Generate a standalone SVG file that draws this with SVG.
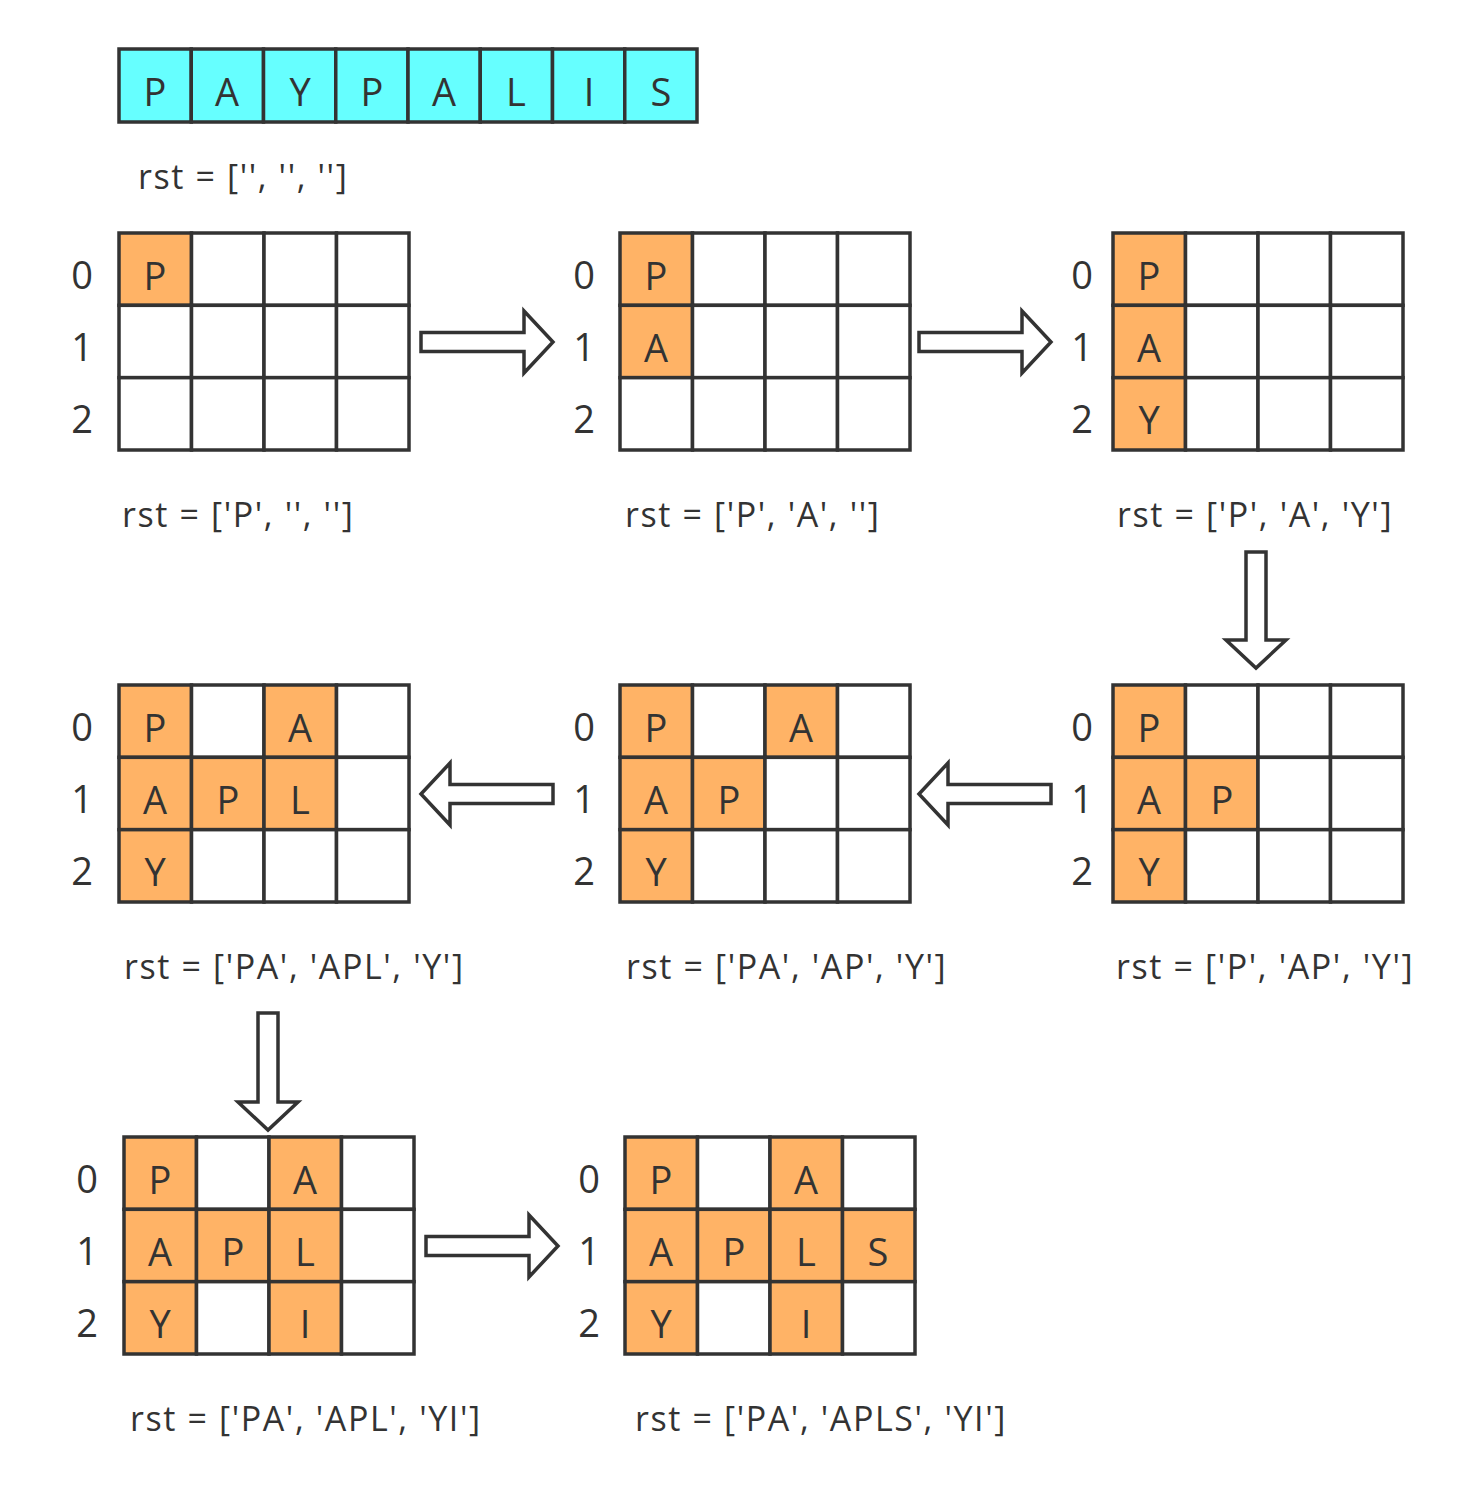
<svg xmlns="http://www.w3.org/2000/svg" width="1468" height="1488" viewBox="0 0 1468 1488">
<style>
.c{fill:#fff;stroke:#333;stroke-width:3.5}
.o{fill:#FFB366;stroke:#333;stroke-width:3.5}
.s{fill:#66FFFF;stroke:#333;stroke-width:3.5}
.t{font-family:"Open Sans","Noto Sans",sans-serif;font-size:38px;fill:#333;text-anchor:middle}
.n{font-family:"Open Sans","Noto Sans",sans-serif;font-size:38px;fill:#333;text-anchor:middle}
.r{font-family:"Open Sans","Noto Sans",sans-serif;font-size:34px;fill:#333;letter-spacing:1.6px}
.a{fill:#fff;stroke:#333;stroke-width:3.5;stroke-linejoin:miter}
</style>
<rect width="1468" height="1488" fill="#fff"/>
<g id="input">
<rect class="s" x="119" y="49" width="72.25" height="73"/>
<rect class="s" x="191.25" y="49" width="72.25" height="73"/>
<rect class="s" x="263.5" y="49" width="72.25" height="73"/>
<rect class="s" x="335.75" y="49" width="72.25" height="73"/>
<rect class="s" x="408" y="49" width="72.25" height="73"/>
<rect class="s" x="480.25" y="49" width="72.25" height="73"/>
<rect class="s" x="552.5" y="49" width="72.25" height="73"/>
<rect class="s" x="624.75" y="49" width="72.25" height="73"/>
<text class="t" x="155" y="106">P</text>
<text class="t" x="227" y="106">A</text>
<text class="t" x="300" y="106">Y</text>
<text class="t" x="372" y="106">P</text>
<text class="t" x="444" y="106">A</text>
<text class="t" x="516" y="106">L</text>
<text class="t" x="589" y="106">I</text>
<text class="t" x="661" y="106">S</text>
<text class="r" x="138" y="189">rst = ['', '', '']</text>
</g>

<g id="step1" transform="translate(119,233)">
<rect class="o" x="0" y="0" width="72.5" height="72.33"/><rect class="c" x="72.5" y="0" width="72.5" height="72.33"/><rect class="c" x="145" y="0" width="72.5" height="72.33"/><rect class="c" x="217.5" y="0" width="72.5" height="72.33"/>
<rect class="c" x="0" y="72.33" width="72.5" height="72.33"/><rect class="c" x="72.5" y="72.33" width="72.5" height="72.33"/><rect class="c" x="145" y="72.33" width="72.5" height="72.33"/><rect class="c" x="217.5" y="72.33" width="72.5" height="72.33"/>
<rect class="c" x="0" y="144.67" width="72.5" height="72.33"/><rect class="c" x="72.5" y="144.67" width="72.5" height="72.33"/><rect class="c" x="145" y="144.67" width="72.5" height="72.33"/><rect class="c" x="217.5" y="144.67" width="72.5" height="72.33"/>
<text class="n" x="-37" y="56">0</text><text class="n" x="-37" y="128">1</text><text class="n" x="-37" y="200">2</text>
<text class="t" x="36" y="57">P</text>
<text class="r" x="3" y="294">rst = ['P', '', '']</text>
</g>

<g id="step2" transform="translate(620,233)">
<rect class="o" x="0" y="0" width="72.5" height="72.33"/><rect class="c" x="72.5" y="0" width="72.5" height="72.33"/><rect class="c" x="145" y="0" width="72.5" height="72.33"/><rect class="c" x="217.5" y="0" width="72.5" height="72.33"/>
<rect class="o" x="0" y="72.33" width="72.5" height="72.33"/><rect class="c" x="72.5" y="72.33" width="72.5" height="72.33"/><rect class="c" x="145" y="72.33" width="72.5" height="72.33"/><rect class="c" x="217.5" y="72.33" width="72.5" height="72.33"/>
<rect class="c" x="0" y="144.67" width="72.5" height="72.33"/><rect class="c" x="72.5" y="144.67" width="72.5" height="72.33"/><rect class="c" x="145" y="144.67" width="72.5" height="72.33"/><rect class="c" x="217.5" y="144.67" width="72.5" height="72.33"/>
<text class="n" x="-36" y="56">0</text><text class="n" x="-36" y="128">1</text><text class="n" x="-36" y="200">2</text>
<text class="t" x="36" y="57">P</text><text class="t" x="36" y="129">A</text>
<text class="r" x="5" y="294">rst = ['P', 'A', '']</text>
</g>

<g id="step3" transform="translate(1113,233)">
<rect class="o" x="0" y="0" width="72.5" height="72.33"/><rect class="c" x="72.5" y="0" width="72.5" height="72.33"/><rect class="c" x="145" y="0" width="72.5" height="72.33"/><rect class="c" x="217.5" y="0" width="72.5" height="72.33"/>
<rect class="o" x="0" y="72.33" width="72.5" height="72.33"/><rect class="c" x="72.5" y="72.33" width="72.5" height="72.33"/><rect class="c" x="145" y="72.33" width="72.5" height="72.33"/><rect class="c" x="217.5" y="72.33" width="72.5" height="72.33"/>
<rect class="o" x="0" y="144.67" width="72.5" height="72.33"/><rect class="c" x="72.5" y="144.67" width="72.5" height="72.33"/><rect class="c" x="145" y="144.67" width="72.5" height="72.33"/><rect class="c" x="217.5" y="144.67" width="72.5" height="72.33"/>
<text class="n" x="-31" y="56">0</text><text class="n" x="-31" y="128">1</text><text class="n" x="-31" y="200">2</text>
<text class="t" x="36" y="57">P</text><text class="t" x="36" y="129">A</text><text class="t" x="36" y="201">Y</text>
<text class="r" x="4" y="294">rst = ['P', 'A', 'Y']</text>
</g>

<g id="step4" transform="translate(1113,685)">
<rect class="o" x="0" y="0" width="72.5" height="72.33"/><rect class="c" x="72.5" y="0" width="72.5" height="72.33"/><rect class="c" x="145" y="0" width="72.5" height="72.33"/><rect class="c" x="217.5" y="0" width="72.5" height="72.33"/>
<rect class="o" x="0" y="72.33" width="72.5" height="72.33"/><rect class="o" x="72.5" y="72.33" width="72.5" height="72.33"/><rect class="c" x="145" y="72.33" width="72.5" height="72.33"/><rect class="c" x="217.5" y="72.33" width="72.5" height="72.33"/>
<rect class="o" x="0" y="144.67" width="72.5" height="72.33"/><rect class="c" x="72.5" y="144.67" width="72.5" height="72.33"/><rect class="c" x="145" y="144.67" width="72.5" height="72.33"/><rect class="c" x="217.5" y="144.67" width="72.5" height="72.33"/>
<text class="n" x="-31" y="56">0</text><text class="n" x="-31" y="128">1</text><text class="n" x="-31" y="200">2</text>
<text class="t" x="36" y="57">P</text><text class="t" x="36" y="129">A</text><text class="t" x="109" y="129">P</text><text class="t" x="36" y="201">Y</text>
<text class="r" x="3" y="294">rst = ['P', 'AP', 'Y']</text>
</g>

<g id="step5" transform="translate(620,685)">
<rect class="o" x="0" y="0" width="72.5" height="72.33"/><rect class="c" x="72.5" y="0" width="72.5" height="72.33"/><rect class="o" x="145" y="0" width="72.5" height="72.33"/><rect class="c" x="217.5" y="0" width="72.5" height="72.33"/>
<rect class="o" x="0" y="72.33" width="72.5" height="72.33"/><rect class="o" x="72.5" y="72.33" width="72.5" height="72.33"/><rect class="c" x="145" y="72.33" width="72.5" height="72.33"/><rect class="c" x="217.5" y="72.33" width="72.5" height="72.33"/>
<rect class="o" x="0" y="144.67" width="72.5" height="72.33"/><rect class="c" x="72.5" y="144.67" width="72.5" height="72.33"/><rect class="c" x="145" y="144.67" width="72.5" height="72.33"/><rect class="c" x="217.5" y="144.67" width="72.5" height="72.33"/>
<text class="n" x="-36" y="56">0</text><text class="n" x="-36" y="128">1</text><text class="n" x="-36" y="200">2</text>
<text class="t" x="36" y="57">P</text><text class="t" x="181" y="57">A</text><text class="t" x="36" y="129">A</text><text class="t" x="109" y="129">P</text><text class="t" x="36" y="201">Y</text>
<text class="r" x="6" y="294">rst = ['PA', 'AP', 'Y']</text>
</g>

<g id="step6" transform="translate(119,685)">
<rect class="o" x="0" y="0" width="72.5" height="72.33"/><rect class="c" x="72.5" y="0" width="72.5" height="72.33"/><rect class="o" x="145" y="0" width="72.5" height="72.33"/><rect class="c" x="217.5" y="0" width="72.5" height="72.33"/>
<rect class="o" x="0" y="72.33" width="72.5" height="72.33"/><rect class="o" x="72.5" y="72.33" width="72.5" height="72.33"/><rect class="o" x="145" y="72.33" width="72.5" height="72.33"/><rect class="c" x="217.5" y="72.33" width="72.5" height="72.33"/>
<rect class="o" x="0" y="144.67" width="72.5" height="72.33"/><rect class="c" x="72.5" y="144.67" width="72.5" height="72.33"/><rect class="c" x="145" y="144.67" width="72.5" height="72.33"/><rect class="c" x="217.5" y="144.67" width="72.5" height="72.33"/>
<text class="n" x="-37" y="56">0</text><text class="n" x="-37" y="128">1</text><text class="n" x="-37" y="200">2</text>
<text class="t" x="36" y="57">P</text><text class="t" x="181" y="57">A</text><text class="t" x="36" y="129">A</text><text class="t" x="109" y="129">P</text><text class="t" x="181" y="129">L</text><text class="t" x="36" y="201">Y</text>
<text class="r" x="5" y="294">rst = ['PA', 'APL', 'Y']</text>
</g>

<g id="step7" transform="translate(124,1137)">
<rect class="o" x="0" y="0" width="72.5" height="72.33"/><rect class="c" x="72.5" y="0" width="72.5" height="72.33"/><rect class="o" x="145" y="0" width="72.5" height="72.33"/><rect class="c" x="217.5" y="0" width="72.5" height="72.33"/>
<rect class="o" x="0" y="72.33" width="72.5" height="72.33"/><rect class="o" x="72.5" y="72.33" width="72.5" height="72.33"/><rect class="o" x="145" y="72.33" width="72.5" height="72.33"/><rect class="c" x="217.5" y="72.33" width="72.5" height="72.33"/>
<rect class="o" x="0" y="144.67" width="72.5" height="72.33"/><rect class="c" x="72.5" y="144.67" width="72.5" height="72.33"/><rect class="o" x="145" y="144.67" width="72.5" height="72.33"/><rect class="c" x="217.5" y="144.67" width="72.5" height="72.33"/>
<text class="n" x="-37" y="56">0</text><text class="n" x="-37" y="128">1</text><text class="n" x="-37" y="200">2</text>
<text class="t" x="36" y="57">P</text><text class="t" x="181" y="57">A</text><text class="t" x="36" y="129">A</text><text class="t" x="109" y="129">P</text><text class="t" x="181" y="129">L</text><text class="t" x="36" y="201">Y</text><text class="t" x="181" y="201">I</text>
<text class="r" x="6" y="294">rst = ['PA', 'APL', 'YI']</text>
</g>

<g id="step8" transform="translate(625,1137)">
<rect class="o" x="0" y="0" width="72.5" height="72.33"/><rect class="c" x="72.5" y="0" width="72.5" height="72.33"/><rect class="o" x="145" y="0" width="72.5" height="72.33"/><rect class="c" x="217.5" y="0" width="72.5" height="72.33"/>
<rect class="o" x="0" y="72.33" width="72.5" height="72.33"/><rect class="o" x="72.5" y="72.33" width="72.5" height="72.33"/><rect class="o" x="145" y="72.33" width="72.5" height="72.33"/><rect class="o" x="217.5" y="72.33" width="72.5" height="72.33"/>
<rect class="o" x="0" y="144.67" width="72.5" height="72.33"/><rect class="c" x="72.5" y="144.67" width="72.5" height="72.33"/><rect class="o" x="145" y="144.67" width="72.5" height="72.33"/><rect class="c" x="217.5" y="144.67" width="72.5" height="72.33"/>
<text class="n" x="-36" y="56">0</text><text class="n" x="-36" y="128">1</text><text class="n" x="-36" y="200">2</text>
<text class="t" x="36" y="57">P</text><text class="t" x="181" y="57">A</text><text class="t" x="36" y="129">A</text><text class="t" x="109" y="129">P</text><text class="t" x="181" y="129">L</text><text class="t" x="253" y="129">S</text><text class="t" x="36" y="201">Y</text><text class="t" x="181" y="201">I</text>
<text class="r" x="10" y="294">rst = ['PA', 'APLS', 'YI']</text>
</g>

<g id="connectors">
<path class="a" transform="translate(421,342)" d="M0,-9.5 H103 V-31 L132,0 L103,31 V9.5 H0 Z"/>
<path class="a" transform="translate(919,342)" d="M0,-9.5 H103 V-31 L132,0 L103,31 V9.5 H0 Z"/>
<path class="a" transform="translate(1256,552)" d="M-10,0 H10 V88 H30 L0,116 L-30,88 H-10 Z"/>
<path class="a" transform="translate(919,794)" d="M0,0 L29,-31 V-9.5 H132 V9.5 H29 V31 Z"/>
<path class="a" transform="translate(421,794)" d="M0,0 L29,-31 V-9.5 H132 V9.5 H29 V31 Z"/>
<path class="a" transform="translate(268,1013)" d="M-10,0 H10 V89 H30 L0,117 L-30,89 H-10 Z"/>
<path class="a" transform="translate(426,1246)" d="M0,-9.5 H103 V-31 L132,0 L103,31 V9.5 H0 Z"/>
</g>
</svg>
